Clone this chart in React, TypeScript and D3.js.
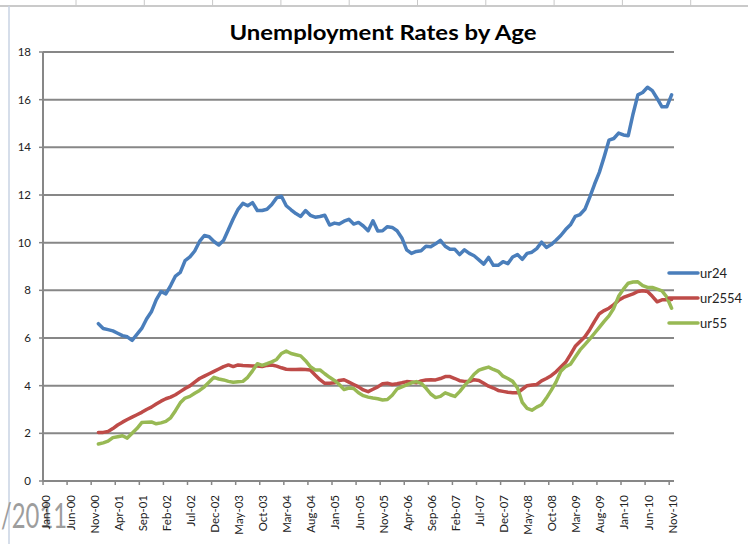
import * as d3 from "d3";

// categories: one per month, Jan-00 .. Nov-10
const firstMonth = new Date(2000, 0, 1);
const endMonth = new Date(2010, 11, 1); // exclusive
const dataStartIndex = 11; // series begin at Dec-00

const xTickLabels = [
  "Jan-00", "Jun-00", "Nov-00", "Apr-01", "Sep-01", "Feb-02", "Jul-02", "Dec-02", "May-03",
  "Oct-03", "Mar-04", "Aug-04", "Jan-05", "Jun-05", "Nov-05", "Apr-06", "Sep-06", "Feb-07",
  "Jul-07", "Dec-07", "May-08", "Oct-08", "Mar-09", "Aug-09", "Jan-10", "Jun-10", "Nov-10",
];
const yTicks = [0, 2, 4, 6, 8, 10, 12, 14, 16, 18];

const ur24 = [
  6.6, 6.4, 6.35, 6.3, 6.2, 6.1, 6.05, 5.9, 6.15, 6.4,
  6.8, 7.1, 7.6, 7.95, 7.85, 8.2, 8.6, 8.75, 9.25, 9.4,
  9.65, 10.05, 10.3, 10.25, 10.05, 9.9, 10.1, 10.55, 11.0, 11.4,
  11.65, 11.55, 11.68, 11.35, 11.35, 11.4, 11.6, 11.88, 11.95, 11.55,
  11.38, 11.22, 11.1, 11.35, 11.15, 11.07, 11.1, 11.15, 10.74, 10.82,
  10.78, 10.9, 10.98, 10.78, 10.85, 10.7, 10.5, 10.92, 10.49, 10.5,
  10.67, 10.64, 10.5, 10.2, 9.7, 9.55, 9.63, 9.66, 9.85, 9.83,
  9.95, 10.1, 9.85, 9.72, 9.72, 9.5, 9.7, 9.55, 9.45, 9.28,
  9.1, 9.38, 9.05, 9.05, 9.2, 9.12, 9.4, 9.5, 9.3, 9.55,
  9.6, 9.75, 10.02, 9.8, 9.92, 10.1, 10.3, 10.55, 10.75, 11.1,
  11.18, 11.4, 11.9, 12.45, 12.95, 13.6, 14.3, 14.37, 14.6, 14.52,
  14.49, 15.4, 16.2, 16.3, 16.52, 16.38, 16.05, 15.7, 15.7, 16.2,
];

const ur2554 = [
  2.04, 2.04, 2.08, 2.2, 2.35, 2.47, 2.58, 2.68, 2.78, 2.88,
  3.0, 3.1, 3.23, 3.35, 3.45, 3.52, 3.62, 3.75, 3.88, 3.99,
  4.15, 4.3, 4.4, 4.5, 4.6, 4.7, 4.8, 4.87, 4.8, 4.87,
  4.85, 4.84, 4.83, 4.82, 4.8, 4.85, 4.87, 4.82, 4.75, 4.69,
  4.68, 4.68, 4.69, 4.68, 4.66, 4.45, 4.25, 4.1, 4.1, 4.12,
  4.22, 4.25, 4.15, 4.05, 3.95, 3.82, 3.75, 3.85, 3.95, 4.08,
  4.1, 4.05, 4.08, 4.12, 4.17, 4.15, 4.12, 4.2, 4.24, 4.25,
  4.24, 4.3, 4.38, 4.38, 4.3, 4.21, 4.18, 4.17, 4.25, 4.22,
  4.1, 3.98, 3.9, 3.8, 3.76, 3.72, 3.7, 3.7, 3.85, 4.0,
  4.03, 4.05, 4.2, 4.3, 4.42, 4.58, 4.78, 4.98, 5.3, 5.65,
  5.85, 6.05, 6.35, 6.7, 7.02, 7.15, 7.25, 7.4, 7.58, 7.7,
  7.78, 7.85, 7.95, 7.98, 7.95, 7.75, 7.52, 7.6, 7.6, 7.62,
];

const ur55 = [
  1.55, 1.6, 1.67, 1.82, 1.86, 1.9, 1.8, 2.0, 2.2, 2.45,
  2.47, 2.48, 2.4, 2.44, 2.5, 2.65, 2.95, 3.28, 3.48, 3.55,
  3.68, 3.8, 3.95, 4.15, 4.35, 4.28, 4.24, 4.18, 4.14, 4.16,
  4.18, 4.35, 4.62, 4.92, 4.85, 4.92, 5.0, 5.1, 5.35, 5.45,
  5.35, 5.3, 5.25, 5.05, 4.8, 4.66, 4.66, 4.5, 4.35, 4.22,
  4.05, 3.84, 3.9, 3.88, 3.7, 3.58, 3.52, 3.48, 3.45, 3.4,
  3.42, 3.6, 3.86, 3.95, 4.03, 4.12, 4.17, 4.1, 3.9, 3.65,
  3.5, 3.55, 3.7, 3.62, 3.55, 3.75, 4.0, 4.22, 4.48, 4.65,
  4.72, 4.78, 4.68, 4.6, 4.4, 4.3, 4.18, 3.9, 3.3, 3.05,
  2.97, 3.1, 3.2, 3.48, 3.8, 4.15, 4.6, 4.8, 4.9, 5.2,
  5.5, 5.72, 5.95, 6.2, 6.45, 6.7, 6.93, 7.25, 7.75, 8.05,
  8.3, 8.35, 8.36, 8.2, 8.12, 8.12, 8.05, 7.98, 7.72, 7.25,
];

const seriesNames = ["ur24", "ur2554", "ur55"];
const seriesValues = [ur24, ur2554, ur55];
const seriesColors = ["#4a7ebb", "#be4b48", "#98b954"];

const FONT = "Lato, 'Open Sans', sans-serif";

export default function App() {
  const width = 748;
  const height = 544;
  const margin = { top: 52, right: 74, bottom: 63, left: 43 };

  const months = d3.timeMonth.range(firstMonth, endMonth).map(d3.timeFormat("%b-%y"));

  const x = d3
    .scaleBand<string>()
    .domain(months)
    .range([margin.left, width - margin.right]);
  const y = d3
    .scaleLinear()
    .domain([0, 18])
    .range([height - margin.bottom, margin.top]);

  const cx = (i: number) => (x(months[i]) ?? 0) + x.bandwidth() / 2;

  const line = d3
    .line<number>()
    .x((_, i) => cx(i + dataStartIndex))
    .y((d) => y(d));

  const [x0, x1] = x.range();
  const yBase = y(0);
  const cellLines = d3.range(76, width, 68.3);

  return (
    <svg
      width={width}
      height={height}
      style={{ position: "absolute", left: 0, top: 0, background: "#fff" }}
      fontFamily={FONT}
    >
      {/* spreadsheet bits behind the chart */}
      <line x1={0} x2={width} y1={6} y2={6} stroke="#b9b9b9" strokeWidth={1.5} />
      {cellLines.map((cx0) => (
        <line key={cx0} x1={cx0} x2={cx0} y1={0} y2={6} stroke="#c8c8c8" />
      ))}
      <line x1={9} x2={9} y1={6} y2={height} stroke="#c9d3e3" strokeWidth={1.5} />

      <text
        x={383}
        y={40}
        textAnchor="middle"
        fontSize={21}
        fontWeight={700}
        textLength={307}
        lengthAdjust="spacingAndGlyphs"
      >
        Unemployment Rates by Age
      </text>

      {/* gridlines + y axis */}
      {yTicks.map((t) => (
        <g key={t}>
          {t > 0 && (
            <line x1={x0} x2={x1} y1={y(t)} y2={y(t)} stroke="#878787" strokeWidth={2} />
          )}
          <line x1={x0 - 4} x2={x0} y1={y(t)} y2={y(t)} stroke="#878787" strokeWidth={1.5} />
          <text x={31} y={y(t)} dy="0.35em" textAnchor="end" fontSize={11.5} fill="#222">
            {t}
          </text>
        </g>
      ))}
      <line x1={x0} x2={x0} y1={y(18)} y2={yBase} stroke="#878787" strokeWidth={2} />
      <line x1={x0} x2={x1} y1={yBase} y2={yBase} stroke="#878787" strokeWidth={2} />

      <text x={1} y={528} fontSize={34} fill="#9d9d9d" textLength={66} lengthAdjust="spacingAndGlyphs">
        /2011
      </text>

      {/* x ticks + labels */}
      {xTickLabels.map((lab) => {
        const bx = x(lab) ?? 0;
        const lx = bx + x.bandwidth() / 2 + 1;
        return (
          <g key={lab}>
            <line x1={bx} x2={bx} y1={yBase} y2={yBase + 4} stroke="#878787" strokeWidth={1.5} />
            <text
              transform={`translate(${lx},495) rotate(-90)`}
              dy="0.35em"
              textAnchor="end"
              fontSize={11.5}
              fill="#222"
            >
              {lab}
            </text>
          </g>
        );
      })}

      {/* series */}
      {seriesValues.map((vals, si) => (
        <path
          key={seriesNames[si]}
          d={line(vals) ?? ""}
          fill="none"
          stroke={seriesColors[si]}
          strokeWidth={3.5}
          strokeLinejoin="round"
          strokeLinecap="round"
        />
      ))}

      {/* legend */}
      {seriesNames.map((name, si) => {
        const ly = 273 + si * 25;
        return (
          <g key={name}>
            <line
              x1={669}
              x2={698}
              y1={ly}
              y2={ly}
              stroke={seriesColors[si]}
              strokeWidth={3.5}
              strokeLinecap="round"
            />
            <text x={700} y={ly} dy="0.35em" fontSize={13} fill="#222">
              {name}
            </text>
          </g>
        );
      })}
    </svg>
  );
}
